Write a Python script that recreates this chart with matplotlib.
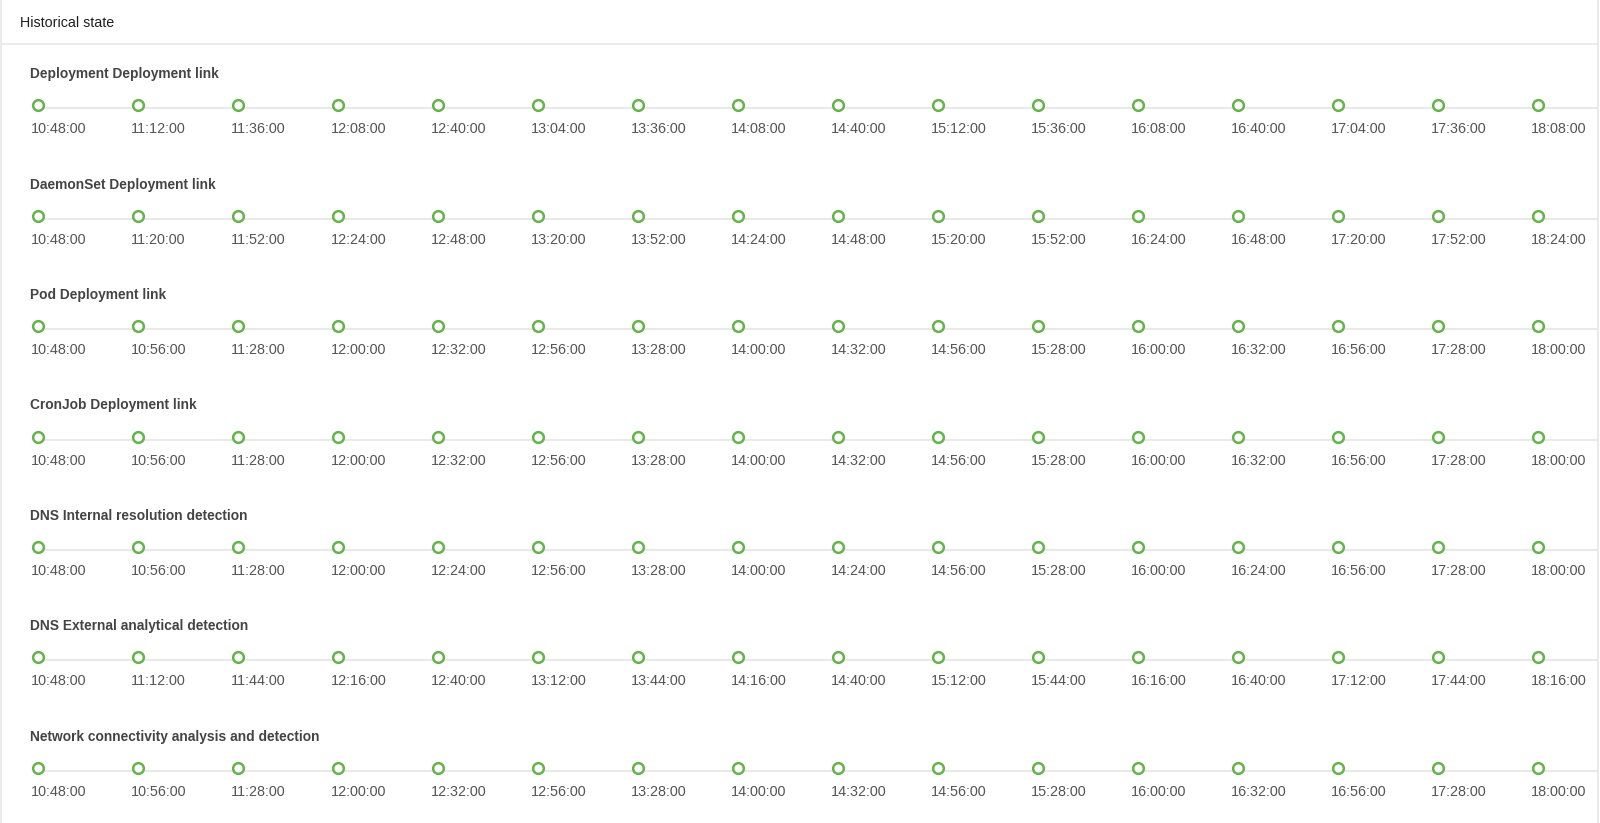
import matplotlib
matplotlib.use('Agg')
import matplotlib.pyplot as plt

plt.rcParams['font.family'] = ['Liberation Sans', 'DejaVu Sans']

panel_title = 'Historical state'

checks = [
    'Deployment Deployment link',
    'DaemonSet Deployment link',
    'Pod Deployment link',
    'CronJob Deployment link',
    'DNS Internal resolution detection',
    'DNS External analytical detection',
    'Network connectivity analysis and detection',
]

times_a = ['10:48:00', '11:12:00', '11:36:00', '12:08:00', '12:40:00', '13:04:00', '13:36:00', '14:08:00',
           '14:40:00', '15:12:00', '15:36:00', '16:08:00', '16:40:00', '17:04:00', '17:36:00', '18:08:00']
times_b = ['10:48:00', '11:20:00', '11:52:00', '12:24:00', '12:48:00', '13:20:00', '13:52:00', '14:24:00',
           '14:48:00', '15:20:00', '15:52:00', '16:24:00', '16:48:00', '17:20:00', '17:52:00', '18:24:00']
times_c = ['10:48:00', '10:56:00', '11:28:00', '12:00:00', '12:32:00', '12:56:00', '13:28:00', '14:00:00',
           '14:32:00', '14:56:00', '15:28:00', '16:00:00', '16:32:00', '16:56:00', '17:28:00', '18:00:00']
times_d = ['10:48:00', '10:56:00', '11:28:00', '12:00:00', '12:24:00', '12:56:00', '13:28:00', '14:00:00',
           '14:24:00', '14:56:00', '15:28:00', '16:00:00', '16:24:00', '16:56:00', '17:28:00', '18:00:00']
times_e = ['10:48:00', '11:12:00', '11:44:00', '12:16:00', '12:40:00', '13:12:00', '13:44:00', '14:16:00',
           '14:40:00', '15:12:00', '15:44:00', '16:16:00', '16:40:00', '17:12:00', '17:44:00', '18:16:00']
row_times = [times_a, times_b, times_c, times_c, times_d, times_e, times_c]

# every sample in the history is healthy
row_status = [['ok'] * len(t) for t in row_times]

W, H = 1600, 823
fig = plt.figure(figsize=(W / 100, H / 100), dpi=100)
fig.patch.set_facecolor('white')

# frame / header drawn in pixel space
bg = fig.add_axes([0, 0, 1, 1])
bg.set_xlim(0, W)
bg.set_ylim(H, 0)
bg.axis('off')
bg.plot([1.0, 1.0], [0, H], color='#e6e6e6', lw=1.2)
bg.plot([1598.0, 1598.0], [0, H], color='#e6e6e6', lw=1.2)
bg.plot([1.0, 1598.0], [44.0, 44.0], color='#e8e8e8', lw=1.2)
bg.text(20.5, 26.7, panel_title, fontsize=10.3, color='#1f1f1f', va='baseline', ha='left')

# timelines: x = sample index, y = row index
px_step, py_step = 100.0, 110.4
x0_px, y0_px = 37.7, 105.5
ax = fig.add_axes([0, 0, 1, 1])
ax.set_xlim(-x0_px / px_step, (W - x0_px) / px_step)
ax.set_ylim((H - y0_px) / py_step, -y0_px / py_step)
ax.axis('off')

green = '#66b34d'
dx = 1.0 / px_step
dy = 1.0 / py_step
for r, (name, times) in enumerate(zip(checks, row_times)):
    xs = list(range(len(times)))
    ax.plot([xs[0], (1598 - x0_px) / px_step], [r + 3.0 * dy, r + 3.0 * dy],
            color='#e9e9e9', lw=1.5, zorder=1, solid_capstyle='butt')
    ax.text(-7.7 * dx, r - 27.2 * dy, name, fontsize=9.95, fontweight='bold', color='#444444',
            va='baseline', ha='left')
    for i, t in enumerate(times):
        ax.plot(i, r, marker='o', markersize=7.7, markerfacecolor='white',
                markeredgecolor=green if row_status[r][i] == 'ok' else '#d9534f',
                markeredgewidth=1.8, zorder=3)
        ax.text(i - 6.9 * dx, r + 28.0 * dy, t, fontsize=10.4, color='#555555',
                va='baseline', ha='left')

fig.savefig('out.png', dpi=100, facecolor='white')
